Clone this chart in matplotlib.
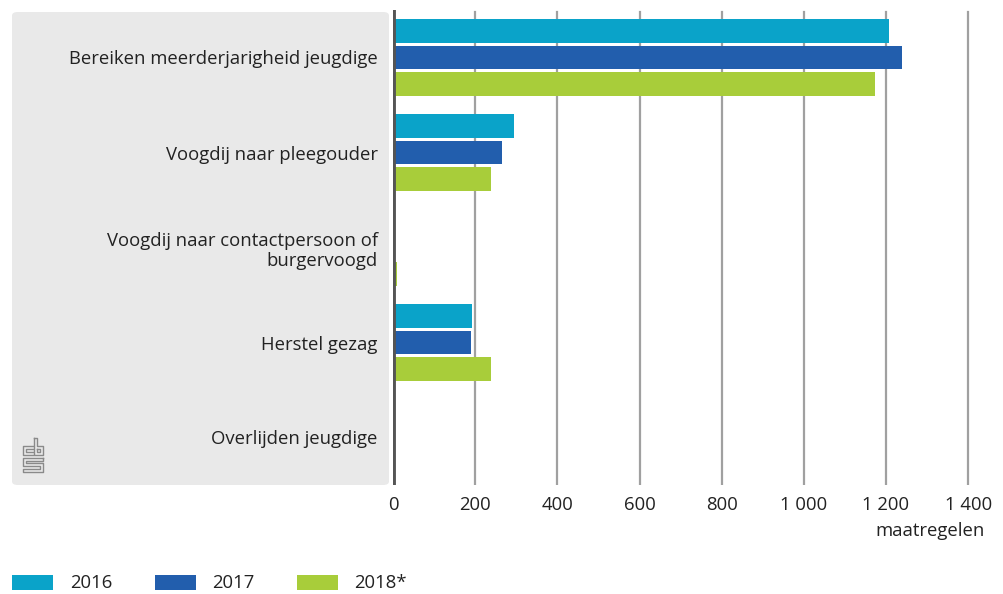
import numpy as np
import matplotlib.pyplot as plt
from matplotlib.patches import FancyBboxPatch, Rectangle
from matplotlib.lines import Line2D

plt.rcParams['font.family'] = ['Open Sans', 'DejaVu Sans']

categories = ['Bereiken meerderjarigheid jeugdige', 'Voogdij naar pleegouder',
              'Voogdij naar contactpersoon of\nburgervoogd', 'Herstel gezag',
              'Overlijden jeugdige']
years = ['2016', '2017', '2018*']
v2016 = [1208, 295, 0, 192, 0]
v2017 = [1239, 265, 0, 190, 0]
v2018 = [1174, 239, 9, 239, 0]
colors = ['#0aa3c9', '#225ead', '#a8cd3a']
xticks = [0, 200, 400, 600, 800, 1000, 1200, 1400]
xticklabels = ['0', '200', '400', '600', '800', '1 000', '1 200', '1 400']

W, H = 1004, 594
FS = 13.3
fig = plt.figure(figsize=(W / 100, H / 100), dpi=100)

# gray label panel
panel = FancyBboxPatch((12 / W, 1 - 485 / H), (389 - 12) / W, (485 - 12) / H,
                       boxstyle='round,pad=0,rounding_size=0.006',
                       transform=fig.transFigure, facecolor='#e9e9e9',
                       edgecolor='none', zorder=-5)
fig.patches.append(panel)

ax = fig.add_axes([393 / W, 1 - 485 / H, (990 - 393) / W, (485 - 10) / H])
ax.set_facecolor('none')
ax.set_zorder(2)

y = np.arange(len(categories))
h = 0.25
for i, (vals, c) in enumerate(zip([v2016, v2017, v2018], colors)):
    ax.barh(y + (i - 1) * 0.28, vals, height=h, color=c, zorder=3, label=years[i])

ax.set_ylim(len(categories) - 0.5, -0.5)
ax.set_xlim(0, 1453)
ax.set_xticks(xticks)
ax.set_xticklabels(xticklabels, fontsize=FS, color='#222222')
ax.set_yticks(y)
ax.set_yticklabels(categories, fontsize=FS, color='#222222', ha='right',
                   multialignment='right', linespacing=1.15)
ax.tick_params(axis='y', length=0, pad=11)
ax.tick_params(axis='x', length=0, pad=8)
for s in ax.spines.values():
    s.set_visible(False)
for t in xticks[1:]:
    ax.axvline(t, ymin=0, ymax=0.995, color='#a0a0a0', lw=1.6, zorder=1)
ax.axvline(0, color='#555555', lw=3.5, zorder=4)

fig.text(985 / W, 1 - 531 / H, 'maatregelen', ha='right', va='center',
         fontsize=FS, color='#222222')

# legend
for (x0, tx), c, lab in zip([(12, 70), (155, 212), (297, 354)], colors, years):
    fig.patches.append(Rectangle((x0 / W, 1 - 590 / H), 41 / W, 15 / H,
                                 transform=fig.transFigure, facecolor=c,
                                 edgecolor='none'))
    fig.text(tx / W, 1 - 583 / H, lab, ha='left', va='center', fontsize=FS,
             color='#222222')

# rough cbs logo
lc = '#8a8a8a'
segs = [
    # c
    [(33, 446), (23, 446), (23, 455), (33, 455)],
    [(33, 449), (26, 449), (26, 452), (33, 452)],
    # b
    [(34, 438), (34, 455), (43, 455), (43, 446), (37, 446), (37, 438), (34, 438)],
    [(37, 449), (40, 449), (40, 452), (37, 452), (37, 449)],
    # s
    [(43, 458), (23, 458), (23, 466), (40, 466), (40, 469), (23, 469), (23, 472),
     (43, 472), (43, 463), (26, 463), (26, 461), (43, 461), (43, 458)],
]
for sg in segs:
    xs = [p[0] / W for p in sg]
    ys = [1 - p[1] / H for p in sg]
    fig.add_artist(Line2D(xs, ys, color=lc, lw=1.0, transform=fig.transFigure))

fig.savefig('out.png', dpi=100)
